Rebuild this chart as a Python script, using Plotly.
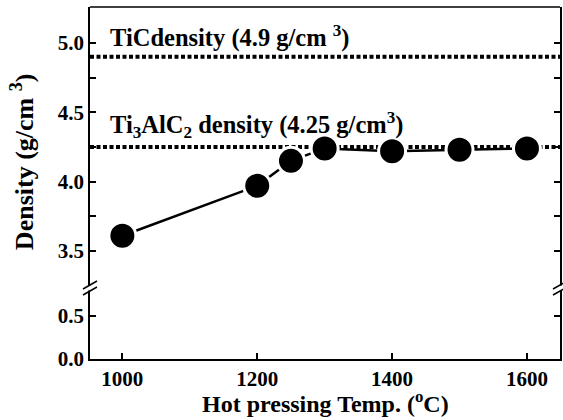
import plotly.graph_objects as go

# Data
temps = [1000, 1200, 1250, 1300, 1400, 1500, 1600]
density = [3.61, 3.97, 4.15, 4.24, 4.22, 4.23, 4.24]
tic_density = 4.9
ti3alc2_density = 4.25
x_ticks = [1000, 1200, 1400, 1600]
upper_ticks = [3.5, 3.75, 4.0, 4.25, 4.5, 4.75, 5.0]
upper_ticktext = ["3.5", "", "4.0", "", "4.5", "", "5.0"]
lower_ticks = [0.0, 0.5]
lower_ticktext = ["0.0", "0.5"]

FONT = "Liberation Serif"
d = 71 / 352  # break position (paper)

fig = go.Figure()

# empty trace to register the lower subplot
fig.add_trace(go.Scatter(x=[], y=[], xaxis="x", yaxis="y", showlegend=False, hoverinfo="skip"))

fig.add_trace(go.Scatter(
    x=temps, y=density, mode="lines+markers",
    xaxis="x", yaxis="y2",
    line=dict(color="black", width=2.5),
    marker=dict(size=27, color="black", line=dict(color="white", width=3)),
    showlegend=False,
))

shapes = []
for val in [tic_density, ti3alc2_density]:
    shapes.append(dict(type="line", xref="paper", x0=0, x1=1, yref="y2", y0=val, y1=val,
                       line=dict(color="black", width=4, dash="4px,2.5px"), layer="below"))
# top frame line
shapes.append(dict(type="line", xref="paper", yref="paper", x0=0, x1=1, y0=1, y1=1,
                   line=dict(color="black", width=1.5)))
# break marks
for xa in [0, 1]:
    shapes.append(dict(type="rect", xref="paper", yref="paper", xsizemode="pixel", ysizemode="pixel",
                       xanchor=xa, yanchor=d, x0=-2, x1=2, y0=-2.5, y1=2.5,
                       fillcolor="white", line=dict(width=0)))
    for off in [-3, 3]:
        shapes.append(dict(type="line", xref="paper", yref="paper", xsizemode="pixel", ysizemode="pixel",
                           xanchor=xa, yanchor=d, x0=-7, x1=7, y0=-4 + off, y1=4 + off,
                           line=dict(color="black", width=1.5)))

axis_common = dict(showgrid=False, zeroline=False, showline=True, linecolor="black", linewidth=1.5,
                   ticks="inside", ticklen=6, tickwidth=1.5, tickcolor="black",
                   tickfont=dict(family=FONT, size=21, color="black", weight="bold"))

fig.update_layout(
    width=563, height=420,
    margin=dict(l=90, r=1, t=7, b=61),
    paper_bgcolor="white", plot_bgcolor="white",
    xaxis=dict(domain=[0, 1], range=[952, 1649], anchor="y", tickvals=x_ticks, **axis_common),
    yaxis=dict(domain=[0, d], range=[0, 0.8256], anchor="x", tickvals=lower_ticks,
               ticktext=lower_ticktext, mirror="ticks", **axis_common),
    yaxis2=dict(domain=[d, 1], range=[3.2332, 5.2596], anchor="x", tickvals=upper_ticks,
                ticktext=upper_ticktext, mirror="ticks", **axis_common),
    shapes=shapes,
    annotations=[
        dict(text="TiCdensity (4.9 g/cm <sup>3</sup>)", xref="paper", x=0.038, xanchor="left",
             yref="y2", y=5.05, yanchor="middle", showarrow=False,
             font=dict(family=FONT, size=24.5, color="black", weight="bold")),
        dict(text="Ti<sub>3</sub>AlC<sub>2</sub> density (4.25 g/cm<sup>3</sup>)", xref="paper", x=0.038,
             xanchor="left", yref="y2", y=4.41, yanchor="middle", showarrow=False,
             font=dict(family=FONT, size=24.5, color="black", weight="bold")),
        dict(text="Hot pressing Temp. (<sup>o</sup>C)", xref="paper", x=0.5, xanchor="center",
             yref="paper", y=-0.122, yanchor="middle", showarrow=False,
             font=dict(family=FONT, size=24, color="black", weight="bold")),
        dict(text="Density (g/cm <sup>3</sup>)", xref="paper", x=-0.142, xanchor="center",
             yref="paper", y=0.56, yanchor="middle", textangle=-90, showarrow=False,
             font=dict(family=FONT, size=26, color="black", weight="bold")),
    ],
)

fig.write_html("out.html")
